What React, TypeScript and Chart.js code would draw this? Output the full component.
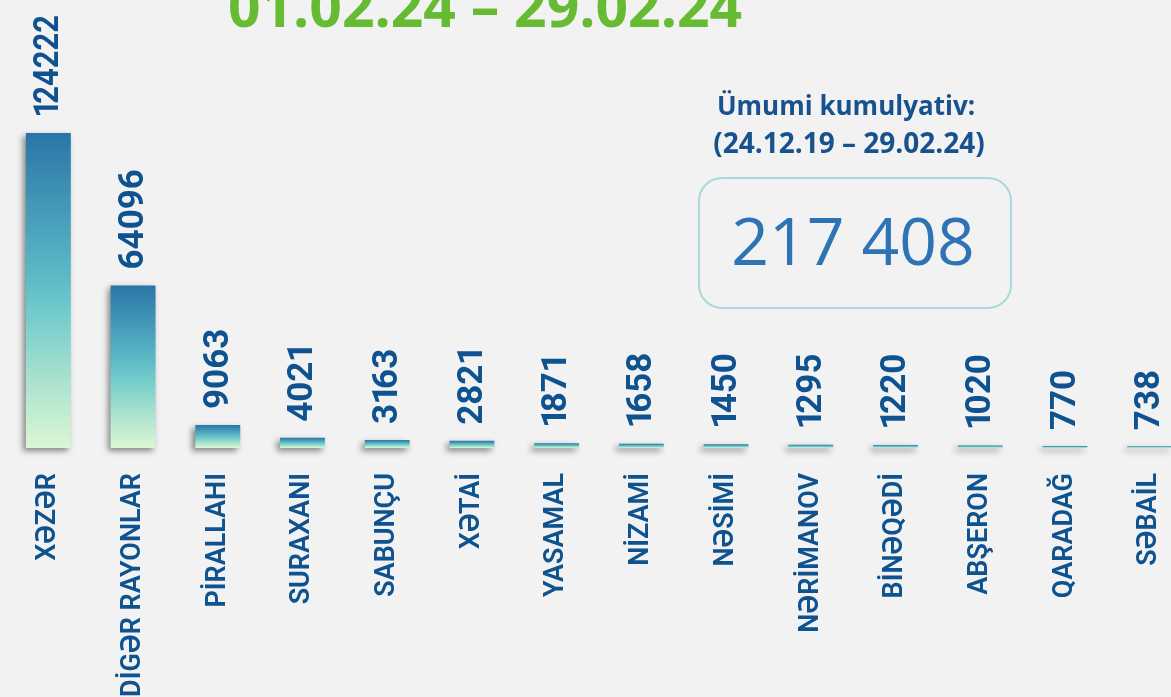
import React, { useEffect, useRef } from 'react';
import { Chart, registerables } from 'chart.js';

Chart.register(...registerables);

const categories = ['XƏZƏR', 'DİGƏR RAYONLAR', 'PİRALLAHI', 'SURAXANI', 'SABUNÇU', 'XƏTAİ', 'YASAMAL', 'NİZAMİ', 'NƏSİMİ', 'NƏRİMANOV', 'BİNƏQƏDİ', 'ABŞERON', 'QARADAĞ', 'SƏBAİL'];
const values = [124222, 64096, 9063, 4021, 3163, 2821, 1871, 1658, 1450, 1295, 1220, 1020, 770, 738];
const periodTitle = '01.02.24 – 29.02.24';
const cumulativeLabel = 'Ümumi kumulyativ:';
const cumulativePeriod = '(24.12.19 – 29.02.24)';
const cumulativeTotal = '217 408';

const LABEL_COLOR = '#0e5290';

// Lay out a number with proportional figures (a narrow "1"), as in the source font.
function layoutDigits(ctx: CanvasRenderingContext2D, text: string) {
  const items: { ch: string; dx: number }[] = [];
  let cursor = 0;
  for (const ch of text) {
    const m = ctx.measureText(ch);
    if (ch === '1') {
      const inkL = -m.actualBoundingBoxLeft;
      const inkW = m.actualBoundingBoxRight + m.actualBoundingBoxLeft;
      items.push({ ch, dx: cursor + 1.5 - inkL });
      cursor += inkW + 3;
    } else {
      items.push({ ch, dx: cursor });
      cursor += m.width;
    }
  }
  return { items, width: cursor };
}

const shadowAndLabels = {
  id: 'shadowAndLabels',
  beforeDatasetsDraw(chart: any) {
    const ctx = chart.ctx;
    ctx.save();
    ctx.shadowColor = 'rgba(0,0,0,0.45)';
    ctx.shadowBlur = 6;
    ctx.shadowOffsetX = -3;
    ctx.shadowOffsetY = 3;
  },
  afterDatasetsDraw(chart: any) {
    const ctx = chart.ctx;
    ctx.restore();
    const meta = chart.getDatasetMeta(0);
    ctx.save();
    ctx.fillStyle = LABEL_COLOR;
    ctx.font = 'bold 35px Roboto, "Liberation Sans", Arial, sans-serif';
    ctx.textAlign = 'left';
    ctx.textBaseline = 'middle';
    meta.data.forEach((bar: any, i: number) => {
      const gap = 16;
      const start = bar.y - gap;
      const maxW = Math.max(start - 15, 10);
      const { items, width } = layoutDigits(ctx, String(values[i]));
      const k = width > maxW ? maxW / width : 1;
      ctx.save();
      ctx.translate(bar.x + 1, start);
      ctx.rotate(-Math.PI / 2);
      ctx.scale(k, 1);
      items.forEach((it) => ctx.fillText(it.ch, it.dx, 0));
      ctx.restore();
    });
    ctx.restore();
  },
};

export default function App() {
  const canvasRef = useRef<HTMLCanvasElement | null>(null);

  useEffect(() => {
    if (!canvasRef.current) return;
    const chart = new Chart(canvasRef.current, {
      type: 'bar',
      data: {
        labels: categories,
        datasets: [
          {
            data: values,
            clip: false as any,
            barPercentage: 0.53,
            categoryPercentage: 1,
            borderWidth: 0,
            backgroundColor: (c: any) => {
              const chart = c.chart;
              const ys = chart.scales && chart.scales.y;
              if (!chart.chartArea || !ys || c.dataIndex === undefined) return '#5dbdc7';
              const top = ys.getPixelForValue(values[c.dataIndex]);
              const base = ys.getPixelForValue(0);
              const g = chart.ctx.createLinearGradient(0, top, 0, Math.max(base, top + 1));
              g.addColorStop(0, '#2a75a7');
              g.addColorStop(0.45, '#5bb9c6');
              g.addColorStop(0.58, '#74cccc');
              g.addColorStop(0.8, '#ade3cf');
              g.addColorStop(1, '#dbf7d3');
              return g;
            },
          },
        ],
      },
      options: {
        responsive: false,
        animation: false,
        layout: { padding: { left: 6, right: 8, top: 0, bottom: 0 } },
        plugins: {
          legend: { display: false },
          tooltip: { enabled: false },
          title: { display: false },
        },
        scales: {
          x: {
            grid: { display: false },
            border: { display: false },
            ticks: {
              autoSkip: false,
              minRotation: 90,
              maxRotation: 90,
              padding: 17,
              color: LABEL_COLOR,
              font: { family: 'Roboto, "Liberation Sans", Arial, sans-serif', size: 27, weight: '600' as any },
            },
            afterFit: (scale: any) => {
              scale.height = 249;
              scale.paddingLeft = 0;
              scale.paddingRight = 0;
            },
          },
          y: {
            display: false,
            min: 0,
            max: 176700,
          },
        },
      },
      plugins: [shadowAndLabels],
    });
    return () => chart.destroy();
  }, []);

  const openSans = '"Open Sans", "Noto Sans", Arial, sans-serif';

  return (
    <div style={{ position: 'fixed', left: 0, top: 0, width: 1171, height: 697, overflow: 'hidden', background: '#f2f2f2' }}>
      <canvas ref={canvasRef} width={1200} height={697} style={{ position: 'absolute', left: 0, top: 0, width: 1200, height: 697 }} />
      <div style={{ position: 'absolute', left: 485, top: -23, transform: 'translateX(-50%)', whiteSpace: 'nowrap', fontFamily: openSans, fontWeight: 700, fontSize: 57, lineHeight: 1, color: '#66bb33' }}>
        {periodTitle}
      </div>
      <div style={{ position: 'absolute', left: 846, top: 92, transform: 'translateX(-50%)', whiteSpace: 'nowrap', fontFamily: openSans, fontWeight: 700, fontSize: 26, lineHeight: 1, color: '#17528e' }}>
        {cumulativeLabel}
      </div>
      <div style={{ position: 'absolute', left: 849, top: 128, transform: 'translateX(-50%)', whiteSpace: 'nowrap', fontFamily: openSans, fontWeight: 700, fontSize: 28, lineHeight: 1, color: '#17528e' }}>
        {cumulativePeriod}
      </div>
      <div style={{ position: 'absolute', left: 698, top: 177, width: 314, height: 132, boxSizing: 'border-box', border: '2.5px solid #a9d7db', borderRadius: 24 }} />
      <div style={{ position: 'absolute', left: 853, top: 206, transform: 'translateX(-50%)', whiteSpace: 'nowrap', fontFamily: openSans, fontWeight: 400, fontSize: 66, lineHeight: 1, color: '#2e74b5' }}>
        {cumulativeTotal}
      </div>
    </div>
  );
}
